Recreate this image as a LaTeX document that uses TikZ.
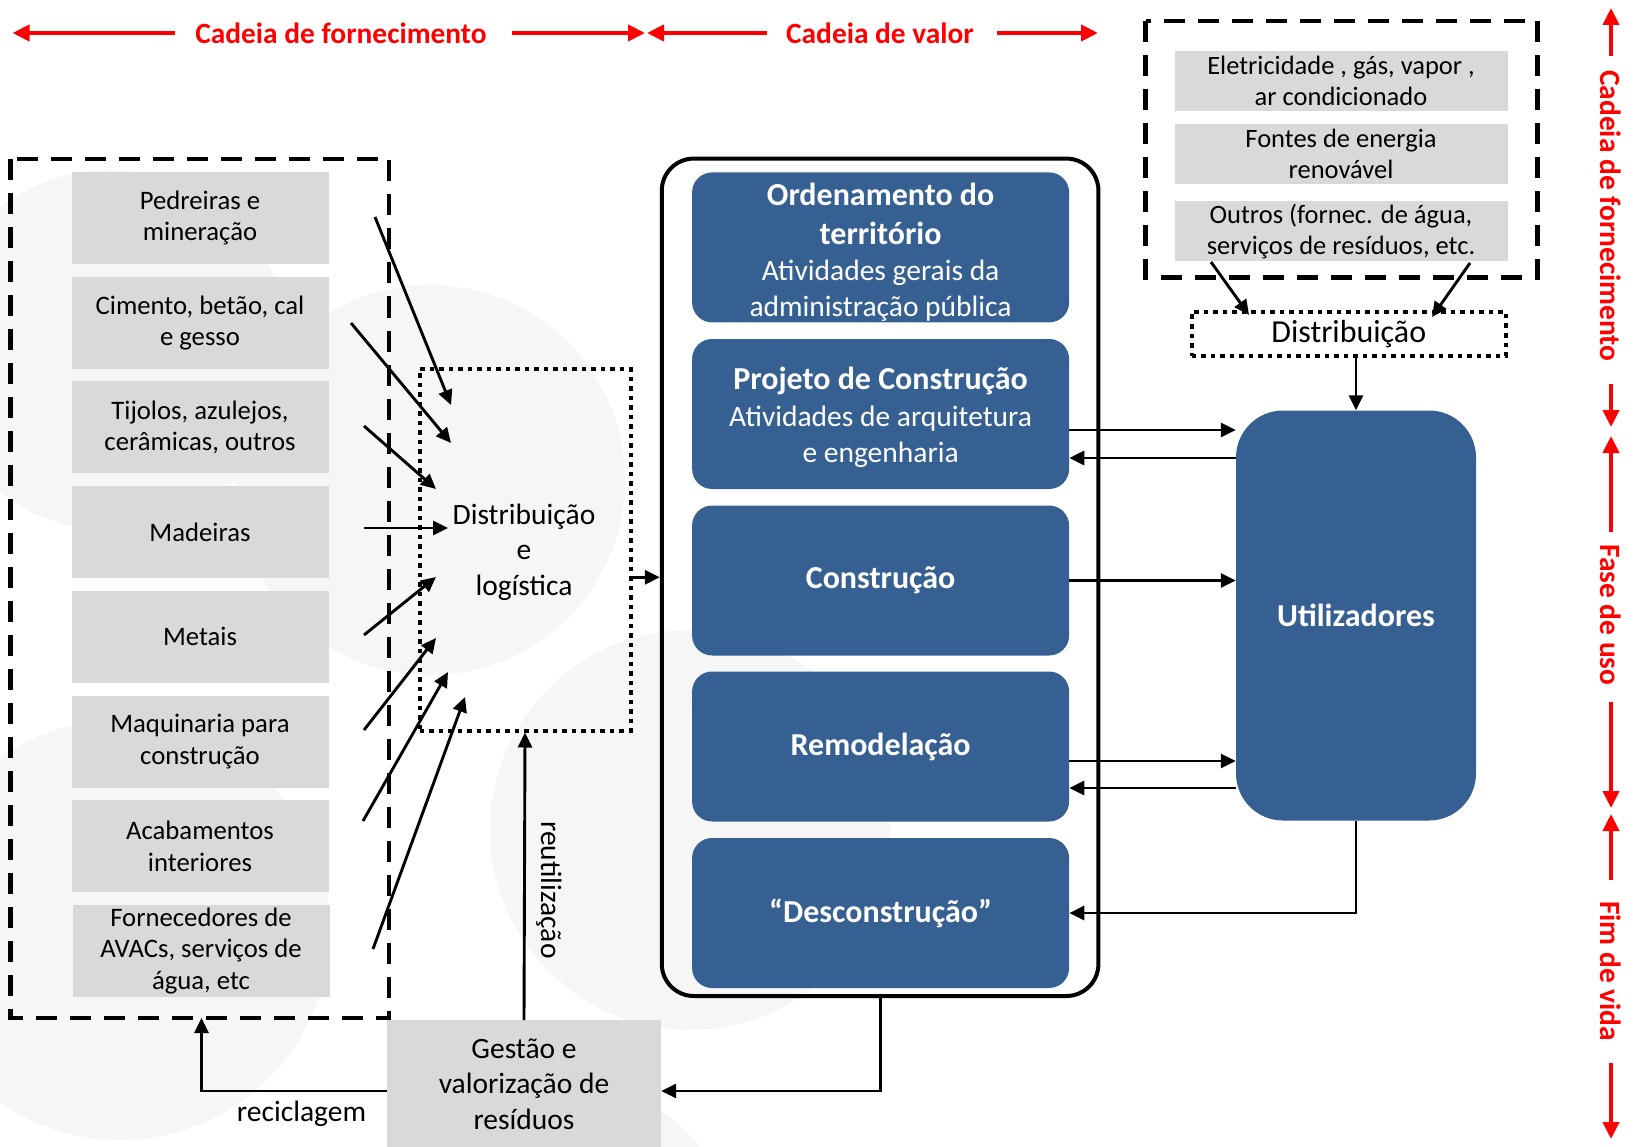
\documentclass[tikz,border=0pt]{standalone}
\usepackage{fontspec}
\setmainfont{Carlito}
\usetikzlibrary{arrows.meta}
\definecolor{bluebox}{RGB}{55,96,146}
\definecolor{graybox}{RGB}{217,217,217}
\definecolor{bgc}{RGB}{246,246,246}
\newcommand\ttlfont{\bfseries\fontsize{32}{39}\selectfont}
\newcommand\subfont{\mdseries\fontsize{29.5}{36}\selectfont}
\begin{document}
\begin{tikzpicture}[x=1pt,y=-1pt,
 gbox/.style={fill=graybox, minimum width=257pt, minimum height=92pt, inner sep=0pt, align=center, font=\fontsize{26.7}{31.3}\selectfont},
 gboxr/.style={fill=graybox, minimum width=333pt, minimum height=59.5pt, inner sep=0pt, align=center, font=\fontsize{26.5}{31.3}\selectfont},
 bbox/.style={fill=bluebox, rounded corners=20pt, minimum width=377pt, minimum height=150pt, inner sep=0pt, align=center, text=white, font=\subfont},
 btxt/.style={inner sep=0pt, align=center, text=white, font=\subfont},
 ttl/.style={font=\ttlfont},
 arr/.style={line width=2.9pt, -{Triangle[length=15pt,width=14pt]}},
 redarr/.style={draw=red, line width=4pt, -{Triangle[length=17pt,width=16pt]}},
 redtxt/.style={text=red, font=\bfseries\fontsize{29.4}{33}\selectfont, inner sep=0pt},
 dashbox/.style={draw, line width=4.5pt, dash pattern=on 21pt off 13pt},
 dotbox/.style={draw, line width=4pt, dash pattern=on 4.5pt off 5pt},
 lbl/.style={font=\fontsize{29.5}{35.5}\selectfont, align=center, inner sep=0pt}
]
\useasboundingbox (0,0) rectangle (1637,1147);
% background circles
\fill[bgc] (110,350) circle (180);
\fill[bgc] (430,480) circle (195);
\fill[bgc] (690,830) circle (200);
\fill[bgc] (120,930) circle (210);
\fill[bgc] (560,1260) circle (180);

% header
\node[redtxt] (hsup) at (341,33) {Cadeia de fornecimento};
\node[redtxt] (hval) at (880,33) {Cadeia de valor};
\coordinate (h1a) at (175,33); \coordinate (h1b) at (12.5,33);
\coordinate (h2a) at (511.5,33); \coordinate (h2b) at (645,33);
\coordinate (h3a) at (767,33); \coordinate (h3b) at (647,33);
\coordinate (h4a) at (997,33); \coordinate (h4b) at (1098,33);
\draw[redarr] (h1a) -- (h1b);
\draw[redarr] (h2a) -- (h2b);
\draw[redarr] (h3a) -- (h3b);
\draw[redarr] (h4a) -- (h4b);

% right side phases
\node[redtxt, rotate=-90] (vsup) at (1611,216) {Cadeia de fornecimento};
\node[redtxt, rotate=-90] (vuso) at (1611,615) {Fase de uso};
\node[redtxt, rotate=-90] (vfim) at (1611,971) {Fim de vida};
\coordinate (v1a) at (1611,56); \coordinate (v1b) at (1611,8);
\coordinate (v2a) at (1611,384); \coordinate (v2b) at (1611,427);
\coordinate (v3a) at (1611,532); \coordinate (v3b) at (1611,436);
\coordinate (v4a) at (1611,702); \coordinate (v4b) at (1611,808);
\coordinate (v5a) at (1611,880); \coordinate (v5b) at (1611,814);
\coordinate (v6a) at (1611,1063); \coordinate (v6b) at (1611,1139);
\draw[redarr] (v1a) -- (v1b);
\draw[redarr] (v2a) -- (v2b);
\draw[redarr] (v3a) -- (v3b);
\draw[redarr] (v4a) -- (v4b);
\draw[redarr] (v5a) -- (v5b);
\draw[redarr] (v6a) -- (v6b);

% left supply chain
\draw[dashbox] (10.5,159) rectangle (389,1018);
\node[gbox] (g1) at (200,218) {Pedreiras e\\mineração};
\node[gbox] (g2) at (200,322.7) {Cimento, betão, cal\\e gesso};
\node[gbox] (g3) at (200,427.4) {Tijolos, azulejos,\\cerâmicas, outros};
\node[gbox] (g4) at (200,532.1) {Madeiras};
\node[gbox] (g5) at (200,636.8) {Metais};
\node[gbox] (g6) at (200,741.5) {Maquinaria para\\construção};
\node[gbox] (g7) at (200,846.2) {Acabamentos\\interiores};
\node[gbox] (g8) at (201,950.9) {Fornecedores de\\AVACs, serviços de\\água, etc};

% distribution and logistics
\node[dotbox, minimum width=211pt, minimum height=362pt, inner sep=0pt] (dist) at (525,549.5) {};
\node[lbl] (distt) at (524,552) {Distribuição\\e\\logística};

\coordinate (a1) at (375,217); \coordinate (b1) at (451,405);
\coordinate (a2) at (351,323); \coordinate (b2) at (451,443);
\coordinate (a3) at (364,426); \coordinate (b3) at (436,489);
\coordinate (a4) at (364,528); \coordinate (b4) at (448,528);
\coordinate (a5) at (364,635); \coordinate (b5) at (436,577);
\coordinate (a6) at (364,730); \coordinate (b6) at (436,638);
\coordinate (a7) at (363,821); \coordinate (b7) at (448,672);
\coordinate (a8) at (373,949); \coordinate (b8) at (465,697);
\foreach \i in {1,...,8} {\draw[arr] (a\i) -- (b\i);}

% value chain
\node[draw, line width=4pt, rounded corners=32pt, minimum width=436.6pt, minimum height=837.4pt, inner sep=0pt] (chain) at (880.1,577.3) {};
\node[bbox] (ord) at (880.6,247.4) {};
\node[btxt] (ordt) at (880.6,252) {\ttlfont Ordenamento do\\[3pt]\ttlfont território\\\subfont Atividades gerais da\\\subfont administração pública};
\node[bbox] (proj) at (880.6,414) {};
\node[btxt] (projt) at (880.6,417.5) {\ttlfont Projeto de Construção\\[1pt]\subfont Atividades de arquitetura\\\subfont e engenharia};
\node[bbox, ttl] (cons) at (880.6,580.5) {Construção};
\node[bbox, ttl] (remod) at (880.6,746.5) {Remodelação};
\node[bbox, ttl] (desc) at (880.6,913) {“Desconstrução”};

\draw[arr] (dist.east |- chain.west) -- (chain.west);

% top right
\draw[dashbox] (1145.5,21) rectangle (1537.5,277.5);
\node[gboxr] (el) at (1341,81) {Eletricidade , gás, vapor ,\\ar condicionado};
\node[gboxr] (fo) at (1341,154) {Fontes de energia\\renovável};
\node[gboxr] (ou) at (1341,231.2) {Outros (fornec. de água,\\serviços de resíduos, etc.};
\node[dotbox, minimum width=314pt, minimum height=44pt, inner sep=0pt, font=\fontsize{32}{36}\selectfont] (dr) at (1348.8,334) {Distribuição};
\coordinate (o1) at (1211,262); \coordinate (p1) at (1249,315);
\coordinate (o2) at (1470,263); \coordinate (p2) at (1432,317);
\draw[arr] (o1) -- (p1);
\draw[arr] (o2) -- (p2);

% utilizadores
\node[fill=bluebox, rounded corners=47pt, minimum width=240pt, minimum height=410pt, inner sep=0pt, text=white, ttl] (util) at (1356,615.5) {Utilizadores};
\draw[arr] (dr.south -| util.north) -- (util.north);

\coordinate (y1) at (0,430); \coordinate (y2) at (0,458);
\coordinate (y3) at (0,580.5); \coordinate (y4) at (0,761); \coordinate (y5) at (0,788);
\draw[arr] (proj.east |- y1) -- (util.west |- y1);
\draw[arr] (util.west |- y2) -- (proj.east |- y2);
\draw[arr] (cons.east |- y3) -- (util.west |- y3);
\draw[arr] (remod.east |- y4) -- (util.west |- y4);
\draw[arr] (util.west |- y5) -- (remod.east |- y5);
\draw[arr] (util.south) |- (desc.east);

% waste management
\node[fill=graybox, minimum width=274pt, minimum height=128pt, inner sep=0pt, lbl, anchor=north] (gest) at (524,1020) {Gestão e\\valorização de\\resíduos};
\coordinate (yb) at (0,1091);
\draw[arr] (chain.south) |- (gest.east |- yb);
\draw[arr] (gest.north) -- (dist.south);
\node[lbl, rotate=-90] (reut) at (549,890) {reutilização};
\coordinate (rc) at (201.5,1018);
\draw[arr] (gest.west |- yb) -| (rc);
\node[lbl] (recl) at (301.5,1114) {reciclagem};
\end{tikzpicture}
\end{document}
